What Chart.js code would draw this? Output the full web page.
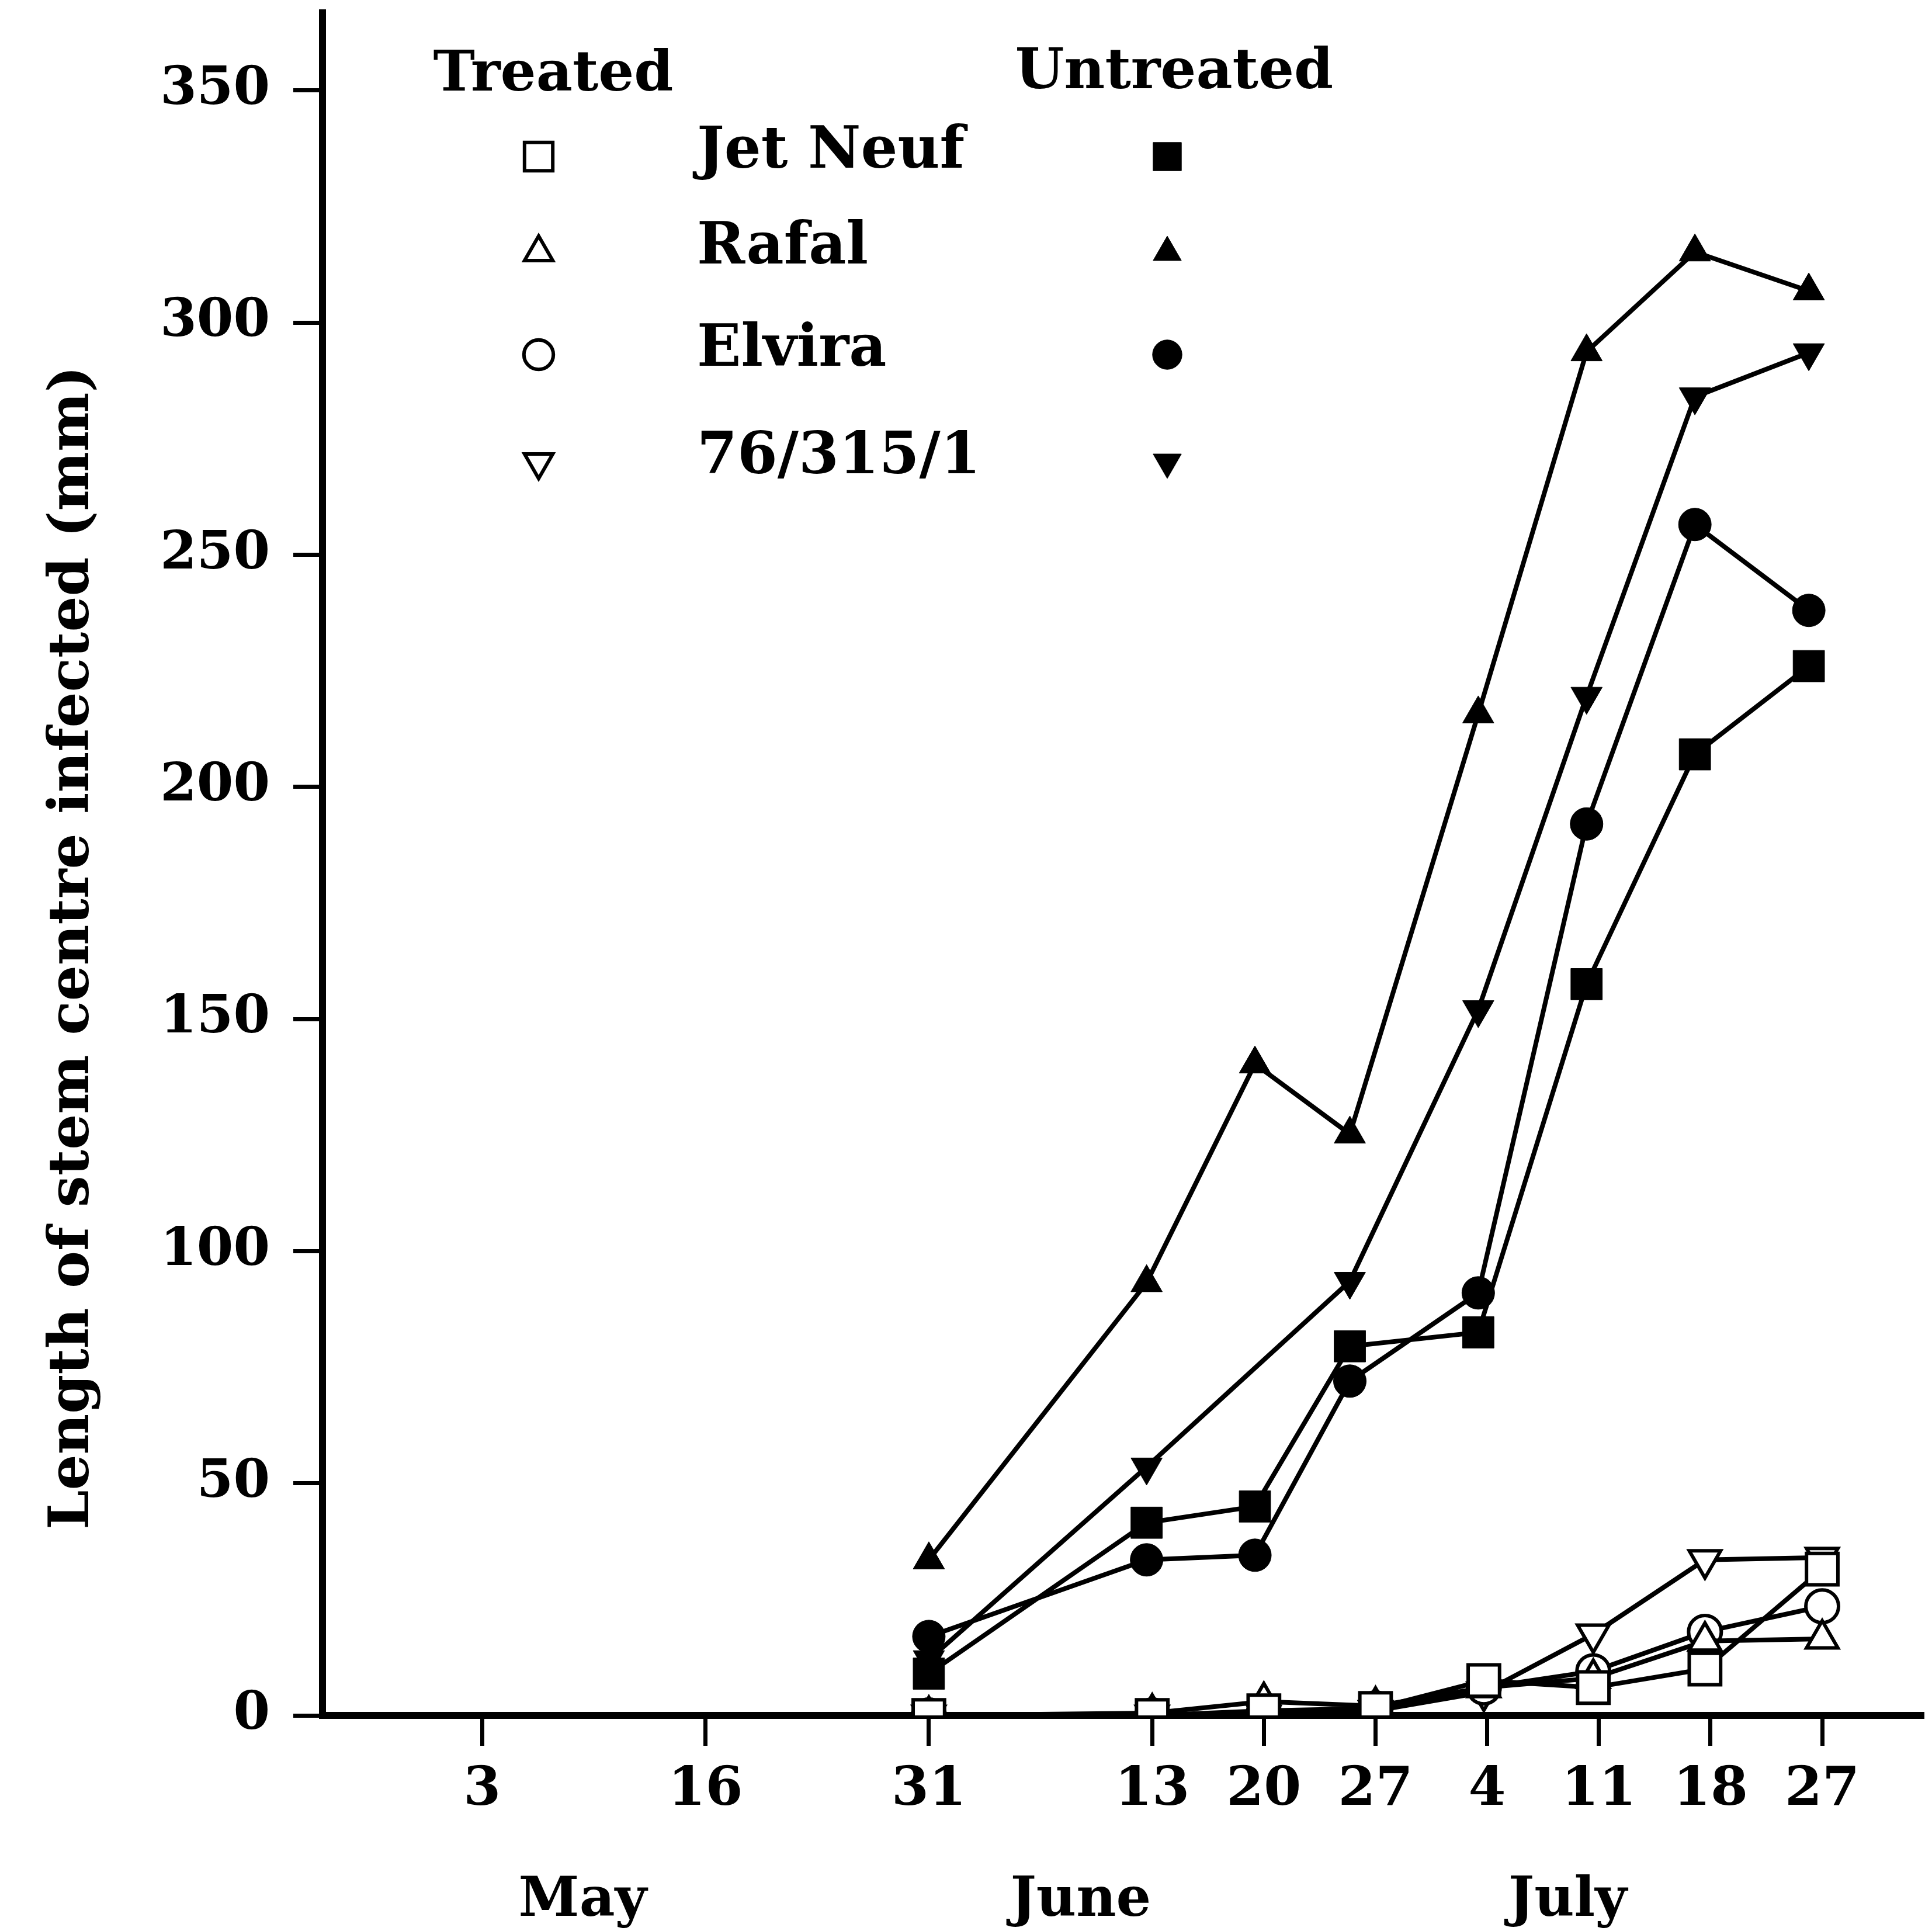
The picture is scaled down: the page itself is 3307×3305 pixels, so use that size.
<!DOCTYPE html>
<html><head><meta charset="utf-8">
<script src="https://cdn.jsdelivr.net/npm/chart.js@4.4.0/dist/chart.umd.min.js"></script>
<style>html,body{margin:0;padding:0;background:#fff;}</style>
</head><body>
<canvas id="c" width="3307" height="3305"></canvas>
<script>
// ---- data ----
const xTickPositions = [0, 2, 4, 6, 7, 8, 9, 10, 11, 12];
const xTickLabels = ['3', '16', '31', '13', '20', '27', '4', '11', '18', '27'];
const monthLabels = ['May', 'June', 'July'];
const monthPositions = [0.9, 5.36, 9.72];
// sampling dates (31 May, 13/20/27 June, 4/11/18/27 July) as plotted in the figure
const treatedPositions   = [4, 6, 7, 8, 8.97, 9.95, 10.95, 12];
const untreatedPositions = [4, 5.95, 6.92, 7.77, 8.92, 9.89, 10.86, 11.88];
const yTicks = [0, 50, 100, 150, 200, 250, 300, 350];
const yTitle = 'Length of stem centre infected (mm)';
const varieties = ['Jet Neuf', 'Rafal', 'Elvira', '76/315/1'];
const groupHeaders = ['Treated', 'Untreated'];

const treatedJetNeuf = [0, 0, 1, 1.5, 7.5, 6, 10, 31.5];
const treatedRafal   = [0, 0.5, 3, 2, 6, 8, 16, 16.5];
const treatedElvira  = [0, 0, 0.5, 1.5, 6, 9.5, 18, 23.5];
const treated76      = [0, 0, 0, 1, 5, 17.5, 33.5, 34];

const untreatedJetNeuf = [9, 41.5, 45, 79.5, 82.5, 157.5, 207, 226];
const untreatedRafal   = [33.5, 93.2, 140.3, 125.2, 215.7, 293.7, 315.2, 306.8];
const untreatedElvira  = [17, 33.5, 34.5, 72, 91, 192, 256.5, 238];
const untreated76      = [12, 53.5, null, 93.5, 152, 219.5, 284, 293.5];

// ---- styles ----
const FONT = '"DejaVu Serif", serif';
const markers = [
  {pointStyle: 'rect', rotation: 0, radius: 38},
  {pointStyle: 'triangle', rotation: 0, radius: 31},
  {pointStyle: 'circle', rotation: 0, radius: 28},
  {pointStyle: 'triangle', rotation: 180, radius: 31}
];
const pts = (arr, xs) => arr.map((v, i) => ({x: xs[i], y: v}));
function makeDs(label, values, xs, k, filled) {
  const m = markers[k];
  return {
    label: label,
    data: pts(values, xs),
    borderColor: '#000',
    borderWidth: 8,
    tension: 0,
    fill: false,
    spanGaps: true,
    pointStyle: m.pointStyle,
    pointRotation: m.rotation,
    pointRadius: m.radius,
    pointHoverRadius: m.radius,
    pointBackgroundColor: filled ? '#000' : '#fff',
    pointBorderColor: '#000',
    pointBorderWidth: filled ? 1 : 6
  };
}
const treatedSets = [treatedJetNeuf, treatedRafal, treatedElvira, treated76];
const untreatedSets = [untreatedJetNeuf, untreatedRafal, untreatedElvira, untreated76];
const datasets = [];
varieties.forEach((v, k) => datasets.push(makeDs(v + ' (untreated)', untreatedSets[k], untreatedPositions, k, true)));
varieties.forEach((v, k) => datasets.push(makeDs(v + ' (treated)', treatedSets[k], treatedPositions, k, false)));

const decor = {
  id: 'decor',
  afterDraw(chart) {
    const ctx = chart.ctx;
    const x = chart.scales.x;
    ctx.save();
    ctx.fillStyle = '#000';
    // y-axis title
    ctx.save();
    ctx.font = 'bold 96px ' + FONT;
    ctx.translate(116, 1622);
    ctx.rotate(-Math.PI / 2);
    ctx.textAlign = 'center';
    ctx.textBaseline = 'alphabetic';
    ctx.fillText(yTitle, 0, 0.365 * 96);
    ctx.restore();
    // month labels
    ctx.font = 'bold 94px ' + FONT;
    ctx.textAlign = 'center';
    ctx.textBaseline = 'alphabetic';
    monthLabels.forEach((m, i) => {
      ctx.fillText(m, x.getPixelForValue(monthPositions[i]), 3245 + 0.365 * 94);
    });
    // legend
    const hf = 96;
    ctx.font = 'bold ' + hf + 'px ' + FONT;
    ctx.fillText(groupHeaders[0], 947, 120 + 0.365 * hf);
    ctx.fillText(groupHeaders[1], 2010, 116 + 0.365 * hf);
    const lf = 99;
    ctx.font = 'bold ' + lf + 'px ' + FONT;
    const rowY = [268, 432, 607, 791];
    ctx.textAlign = 'left';
    varieties.forEach((v, k) => {
      ctx.fillStyle = '#000';
      ctx.fillText(v, 1193, rowY[k] - 17 + 0.365 * lf);
      const m = markers[k];
      // treated (hollow)
      ctx.fillStyle = '#fff';
      ctx.strokeStyle = '#000';
      ctx.lineWidth = 6;
      Chart.helpers.drawPoint(ctx, {pointStyle: m.pointStyle, rotation: m.rotation, radius: m.radius * 0.9, borderWidth: 6}, 922, rowY[k]);
      // untreated (filled)
      ctx.fillStyle = '#000';
      ctx.lineWidth = 1;
      Chart.helpers.drawPoint(ctx, {pointStyle: m.pointStyle, rotation: m.rotation, radius: m.radius * 0.9, borderWidth: 1}, 1998, rowY[k]);
    });
    ctx.restore();
  }
};

new Chart(document.getElementById('c'), {
  type: 'line',
  data: {datasets: datasets},
  options: {
    responsive: false,
    animation: false,
    layout: {autoPadding: false, padding: {top: 22, right: 14, left: 0, bottom: 0}},
    plugins: {legend: {display: false}, tooltip: {enabled: false}},
    scales: {
      x: {
        type: 'linear',
        position: 'bottom',
        min: -1.43,
        max: 12.91,
        afterBuildTicks: s => { s.ticks = xTickPositions.map(v => ({value: v})); },
        afterFit: s => { s.height = 369; s.paddingLeft = 0; s.paddingRight = 0; },
        grid: {display: true, drawOnChartArea: false, drawTicks: true, tickLength: 52, tickWidth: 7, tickColor: '#000'},
        border: {display: true, color: '#000', width: 12},
        ticks: {
          autoSkip: false, maxRotation: 0, minRotation: 0, padding: 22, color: '#000',
          font: {family: FONT, weight: 'bold', size: 92},
          callback: (v) => { const i = xTickPositions.indexOf(v); return i >= 0 ? xTickLabels[i] : ''; }
        }
      },
      y: {
        type: 'linear',
        min: 0,
        max: 366.7,
        afterBuildTicks: s => { s.ticks = yTicks.map(v => ({value: v})); },
        afterFit: s => { s.width = 552; s.paddingTop = 0; s.paddingBottom = 0; },
        grid: {display: true, drawOnChartArea: false, drawTicks: true, tickLength: 50, tickWidth: 7, tickColor: '#000'},
        border: {display: true, color: '#000', width: 12},
        ticks: {
          padding: 40, color: '#000',
          font: {family: FONT, weight: 'bold', size: 90}
        }
      }
    }
  },
  plugins: [decor]
});
</script>
</body></html>
